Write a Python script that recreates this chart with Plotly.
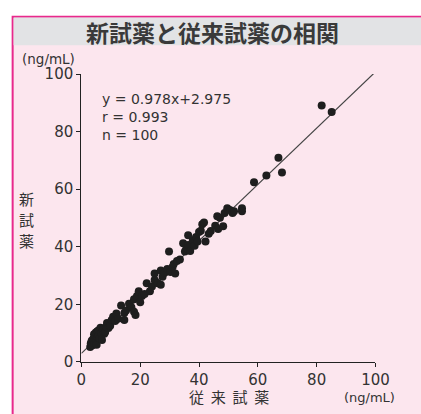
import plotly.graph_objects as go

# data
conv_x = [3.0, 3.2, 3.5, 3.8, 4.0, 4.2, 4.3, 4.5, 4.8, 4.9,
          5.0, 5.2, 5.4, 5.5, 5.8, 5.9, 6.2, 6.5, 6.8, 7.0,
          7.3, 7.6, 7.8, 8.1, 8.5, 8.7, 9.2, 9.8, 10.3, 10.8,
          11.5, 11.9, 12.5, 13.5, 14.6, 14.6, 15.2, 16.2, 17.0, 17.9,
          17.9, 18.4, 18.9, 19.5, 20.0, 20.6, 21.5, 22.2, 23.3, 24.0,
          24.9, 24.9, 26.0, 27.0, 27.0, 27.6, 28.3, 29.2, 29.8, 30.3,
          31.0, 31.4, 31.9, 32.5, 33.5, 34.6, 35.2, 35.7, 36.3, 36.3,
          37.0, 37.9, 38.5, 39.0, 39.5, 40.0, 40.6, 41.1, 41.7, 42.2,
          43.3, 44.0, 45.5, 46.2, 46.5, 47.1, 48.2, 48.7, 49.6, 50.5,
          51.4, 51.9, 54.6, 54.6, 58.7, 62.9, 67.0, 68.2, 81.7, 85.1]
new_y = [5.2, 6.5, 7.4, 5.8, 8.0, 7.0, 9.6, 6.3, 8.8, 10.2,
         7.6, 6.0, 10.7, 8.5, 9.3, 11.0, 8.2, 11.9, 10.0, 7.6,
         11.2, 11.6, 9.8, 10.4, 12.2, 13.5, 11.8, 12.6, 14.6, 15.7,
         14.2, 16.8, 15.0, 19.6, 14.6, 17.0, 17.9, 20.2, 19.0, 21.8,
         17.4, 16.3, 22.9, 24.6, 20.7, 22.9, 23.6, 27.3, 24.6, 26.2,
         30.7, 28.5, 27.3, 31.8, 26.8, 29.6, 31.0, 32.3, 38.4, 31.2,
         33.0, 34.0, 30.7, 35.1, 35.6, 41.2, 38.4, 39.5, 44.0, 40.6,
         38.5, 42.3, 40.4, 43.4, 41.8, 45.1, 45.6, 47.8, 48.4, 41.8,
         44.5, 45.5, 47.3, 50.6, 46.2, 50.1, 47.1, 51.7, 53.4, 52.8,
         51.7, 52.3, 53.4, 52.3, 62.4, 64.8, 70.9, 65.8, 89.1, 86.8]
slope = 0.978
intercept = 2.975
line_x = [0, 100]
line_y = [intercept + slope * v for v in line_x]
ticks = [0, 20, 40, 60, 80, 100]
stats = ["y = 0.978x+2.975", "r = 0.993", "n = 100"]
y_title_chars = ["新", "試", "薬"]

W, H = 421, 414
PINK = "#fce6ee"
GRAY = "#e2e3e5"
MAG = "#e8298c"
TXT = "#333333"
JP = "Noto Sans CJK JP"
NUM = "DejaVu Sans"

fig = go.Figure()
fig.add_trace(go.Scatter(x=line_x, y=line_y, mode="lines",
                         line=dict(color="#444444", width=1.2),
                         hoverinfo="skip", showlegend=False, cliponaxis=True))
fig.add_trace(go.Scatter(x=conv_x, y=new_y, mode="markers",
                         marker=dict(color="#1e1e1e", size=8, line=dict(width=0)),
                         showlegend=False))

x0p, x1p = 80, 388
ytop, ybot = 68, 369

shapes = [
    dict(type="rect", xref="paper", yref="paper", x0=8 / W, x1=1.1, y0=-0.1, y1=1 - 8 / H,
         fillcolor=PINK, line=dict(color=MAG, width=2), layer="below"),
    dict(type="rect", xref="paper", yref="paper", x0=9 / W, x1=1.05, y0=1 - 38 / H, y1=1 - 9 / H,
         fillcolor=GRAY, line=dict(width=0), layer="below"),
]

annotations = [
    dict(text="<b>新試薬と従来試薬の相関</b>", xref="paper", yref="paper",
         x=217 / W, y=1 - 24 / H, xanchor="center", yanchor="middle", showarrow=False,
         font=dict(family=JP, size=23, color="#3a3a3a")),
    dict(text="(ng/mL)", xref="paper", yref="paper", x=16 / W, y=1 - 52 / H,
         xanchor="left", yanchor="middle", showarrow=False,
         font=dict(family=NUM, size=13.5, color=TXT)),
    dict(text="(ng/mL)", xref="paper", yref="paper", x=409 / W, y=1 - 406 / H,
         xanchor="right", yanchor="middle", showarrow=False, borderpad=0,
         font=dict(family=NUM, size=13, color=TXT)),
    dict(text="従\u00a0\u00a0来\u00a0\u00a0試\u00a0\u00a0薬", xref="paper", yref="paper",
         x=235 / W, y=-0.008, xanchor="center", yanchor="bottom", showarrow=False, borderpad=0,
         font=dict(family=JP, size=15, color=TXT)),
]
for i, ch in enumerate(y_title_chars):
    annotations.append(dict(text=ch, xref="paper", yref="paper", x=23 / W,
                            y=1 - (198 + 22 * i) / H, xanchor="center", yanchor="middle",
                            showarrow=False, borderpad=0,
                            font=dict(family=JP, size=15, color=TXT)))
for i, s in enumerate(stats):
    annotations.append(dict(text=s, xref="paper", yref="paper", x=99 / W,
                            y=1 - (94 + 19 * i) / H, xanchor="left", yanchor="middle",
                            showarrow=False, font=dict(family=NUM, size=14, color=TXT)))

axis_common = dict(range=[0, 100], tickvals=ticks, ticktext=[str(t) for t in ticks],
                   showgrid=False, zeroline=False, showline=True, linecolor="#222222",
                   linewidth=1.3, ticks="outside", ticklen=4, tickwidth=1.3, tickcolor="#222222",
                   tickfont=dict(family=NUM, size=15, color=TXT), fixedrange=True)

fig.update_layout(
    autosize=True, margin=dict(l=0, r=0, t=0, b=0),
    paper_bgcolor="white", plot_bgcolor="white",
    xaxis=dict(domain=[x0p / W, x1p / W], anchor="y", **axis_common),
    yaxis=dict(domain=[1 - ybot / H, 1 - ytop / H], anchor="x", **axis_common),
    shapes=shapes, annotations=annotations,
)
post = ("document.documentElement.style.margin='0';document.body.style.margin='0';"
        "document.body.style.padding='0';"
        "document.documentElement.style.overflow='hidden';document.body.style.overflow='hidden';"
        "var gd=document.getElementById('{plot_id}');"
        "gd.style.width='100vw';gd.style.height='100vh';"
        "Plotly.Plots.resize(gd);")
fig.write_html("out.html", post_script=post, default_width="100vw", default_height="100vh",
               config={"displayModeBar": False, "responsive": True})
